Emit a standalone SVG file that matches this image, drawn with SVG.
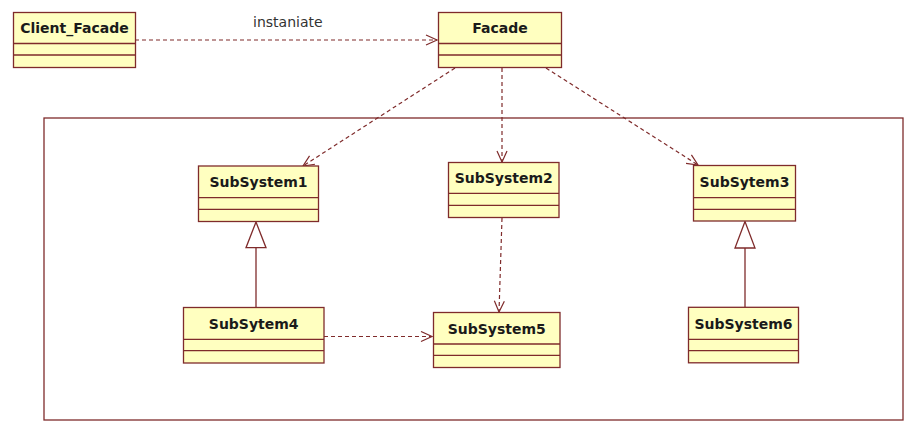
<svg xmlns="http://www.w3.org/2000/svg" width="919" height="439" viewBox="0 0 919 439">
<defs>
<style>
.box{fill:#ffffc0;stroke:#7f2b2b;stroke-width:1.3}
.ln{stroke:#7f2b2b;stroke-width:1.3;fill:none}
.nm{font-family:"DejaVu Sans",Verdana,sans-serif;font-weight:bold;font-size:14px;fill:#1a1a1a;text-anchor:middle}
.lbl{font-family:"DejaVu Sans",Verdana,sans-serif;font-size:14px;fill:#333}
.dep{stroke:#7f2b2b;stroke-width:1.2;fill:none;stroke-dasharray:4,3}
.gen{stroke:#7f2b2b;stroke-width:1.3;fill:none}
</style>
<marker id="open" markerWidth="14" markerHeight="12" refX="12" refY="6" orient="auto" markerUnits="userSpaceOnUse">
<path d="M1,1 L12,6 L1,11" fill="none" stroke="#7f2b2b" stroke-width="1.2"/>
</marker>
<marker id="tri" markerWidth="24" markerHeight="24" refX="26" refY="10" orient="auto" markerUnits="userSpaceOnUse">
<path d="M1,0 L27,10 L1,20 Z" fill="#ffffff" stroke="#7f2b2b" stroke-width="1.2"/>
</marker>
</defs>
<rect x="0" y="0" width="919" height="439" fill="#ffffff"/>
<rect x="44" y="118" width="859" height="302" fill="none" stroke="#7f2b2b" stroke-width="1.3"/>

<g id="connectors">
<path class="dep" d="M135,40 L437,40" marker-end="url(#open)"/>
<path class="dep" d="M455,68 L303,166" marker-end="url(#open)"/>
<path class="dep" d="M502,68 L502,162" marker-end="url(#open)"/>
<path class="dep" d="M546,68 L698,165" marker-end="url(#open)"/>
<path class="dep" d="M502,218 L499,312" marker-end="url(#open)"/>
<path class="dep" d="M324,336.5 L432,336.5" marker-end="url(#open)"/>
<path class="gen" d="M256,307.7 L256,247.7"/>
<path d="M256,222 L246,247.7 L266,247.7 Z" fill="#ffffff" stroke="#7f2b2b" stroke-width="1.3"/>
<path class="gen" d="M745,307.3 L745,248"/>
<path d="M745,221.5 L735,248 L755,248 Z" fill="#ffffff" stroke="#7f2b2b" stroke-width="1.3"/>
<text class="lbl" x="253" y="27">instaniate</text>
</g>

<g id="Client_Facade">
<rect class="box" x="13.5" y="12.5" width="122" height="55"/>
<path class="ln" d="M13.5,43.5 H135.5 M13.5,55 H135.5"/>
<text class="nm" x="74.5" y="33">Client_Facade</text>
</g>

<g id="Facade">
<rect class="box" x="438.5" y="12.5" width="123" height="55"/>
<path class="ln" d="M438.5,43.5 H561.5 M438.5,55 H561.5"/>
<text class="nm" x="500" y="33">Facade</text>
</g>

<g id="SubSystem1">
<rect class="box" x="198.5" y="166" width="120" height="55.5"/>
<path class="ln" d="M198.5,197.7 H318.5 M198.5,209.3 H318.5"/>
<text class="nm" x="258.5" y="187">SubSystem1</text>
</g>

<g id="SubSystem2">
<rect class="box" x="448.5" y="162.5" width="110.5" height="55"/>
<path class="ln" d="M448.5,193.3 H559 M448.5,205.3 H559"/>
<text class="nm" x="503.7" y="183">SubSystem2</text>
</g>

<g id="SubSytem3">
<rect class="box" x="693.5" y="165.5" width="102" height="55.5"/>
<path class="ln" d="M693.5,197.7 H795.5 M693.5,209.3 H795.5"/>
<text class="nm" x="744.5" y="187">SubSytem3</text>
</g>

<g id="SubSytem4">
<rect class="box" x="183.5" y="307.5" width="140.5" height="55.5"/>
<path class="ln" d="M183.5,339.3 H324 M183.5,350.7 H324"/>
<text class="nm" x="253.7" y="329">SubSytem4</text>
</g>

<g id="SubSystem5">
<rect class="box" x="433.5" y="312.5" width="126.5" height="55"/>
<path class="ln" d="M433.5,344 H560 M433.5,355.3 H560"/>
<text class="nm" x="496.7" y="334">SubSystem5</text>
</g>

<g id="SubSystem6">
<rect class="box" x="688.5" y="307.3" width="110" height="55.5"/>
<path class="ln" d="M688.5,339.3 H798.5 M688.5,350.7 H798.5"/>
<text class="nm" x="743.5" y="329">SubSystem6</text>
</g>
</svg>
